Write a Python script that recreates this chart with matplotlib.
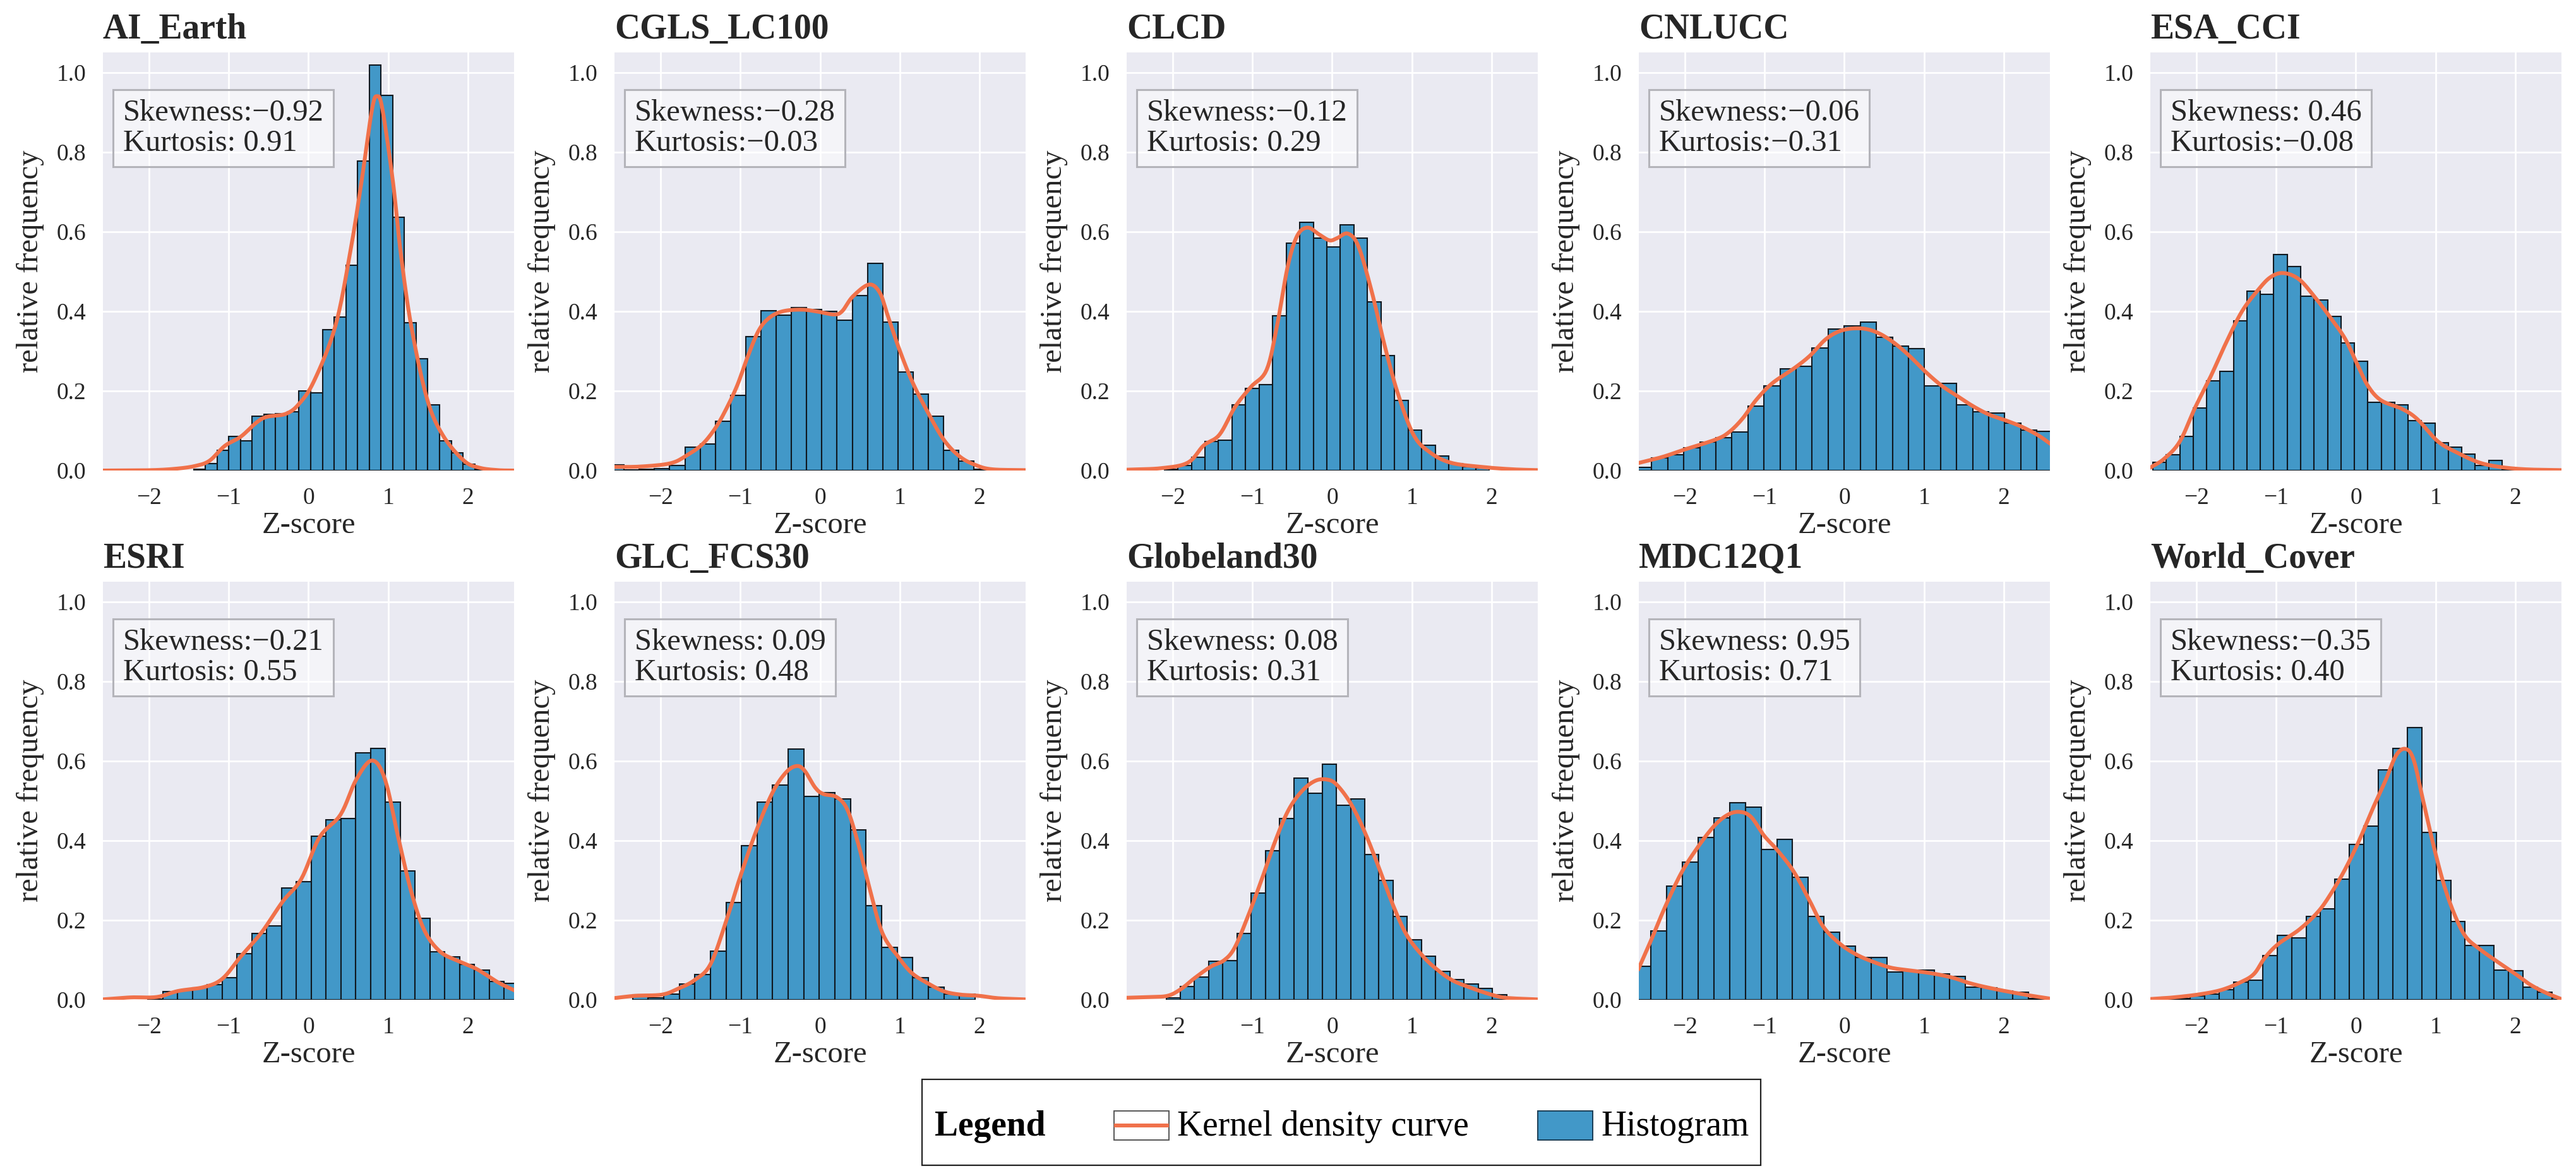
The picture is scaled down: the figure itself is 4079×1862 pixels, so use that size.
import numpy as np
import matplotlib
matplotlib.use("Agg")
import matplotlib.pyplot as plt
from matplotlib.patches import Rectangle
from matplotlib.lines import Line2D

plt.rcParams['font.family'] = ['Liberation Serif', 'DejaVu Serif']

names = ["AI_Earth", "CGLS_LC100", "CLCD", "CNLUCC", "ESA_CCI",
         "ESRI", "GLC_FCS30", "Globeland30", "MDC12Q1", "World_Cover"]
skewness = ["\u22120.92", "\u22120.28", "\u22120.12", "\u22120.06", " 0.46",
            "\u22120.21", " 0.09", " 0.08", " 0.95", "\u22120.35"]
kurtosis = [" 0.91", "\u22120.03", " 0.29", "\u22120.31", "\u22120.08",
            " 0.55", " 0.48", " 0.31", " 0.71", " 0.40"]

bin_start = [-1.442, -2.651, -2.107, -2.62, -2.547, -2.016, -2.354, -2.084, -2.623, -2.441]
bin_width = [0.147, 0.191, 0.17, 0.2014, 0.1685, 0.1863, 0.1955, 0.178, 0.1973, 0.1815]

ai_earth_h = [.003,.018,.051,.085,.075,.137,.141,.142,.148,.2,.195,.353,.386,.516,.777,1.018,.942,.636,.371,.28,.165,.074,.044,.016,.003]
cgls_h = [.014,.002,.003,.005,.012,.059,.066,.123,.189,.337,.402,.39,.409,.404,.40,.378,.44,.52,.372,.247,.192,.136,.05,.023,.003]
clcd_h = [.003,.013,.033,.073,.076,.165,.206,.216,.388,.571,.623,.584,.561,.617,.584,.423,.288,.176,.101,.063,.037,.017,.009,.006]
cnlucc_h = [.008,.032,.04,.057,.072,.082,.096,.161,.213,.255,.262,.307,.356,.363,.372,.335,.312,.306,.212,.219,.165,.147,.145,.119,.102,.099]
esa_h = [.021,.039,.086,.157,.225,.249,.376,.45,.442,.543,.513,.437,.428,.387,.32,.275,.172,.172,.165,.125,.119,.069,.058,.041,.013,.025,.003]
esri_h = [.002,.02,.024,.03,.038,.055,.115,.167,.186,.281,.297,.411,.452,.455,.62,.631,.497,.323,.204,.12,.108,.089,.074,.046,.042]
glc_h = [.012,.005,.014,.039,.064,.122,.245,.387,.497,.539,.629,.51,.521,.504,.426,.236,.131,.106,.056,.032,.014,.014]
globe_h = [.005,.033,.057,.097,.098,.167,.268,.374,.456,.557,.519,.591,.488,.504,.365,.299,.209,.15,.109,.071,.051,.039,.029,.012]
mdc_h = [.084,.173,.286,.345,.407,.457,.495,.483,.377,.403,.308,.21,.17,.135,.106,.106,.07,.073,.074,.065,.059,.032,.03,.022,.019,.003]
world_h = [.007,.003,.009,.014,.025,.045,.049,.111,.162,.156,.209,.228,.303,.39,.436,.577,.632,.684,.42,.3,.196,.136,.137,.075,.073,.032,.019,.004]

ai_earth_kx = [-2.58,-1.97,-1.64,-1.41,-1.24,-1.05,-.85,-.65,-.52,-.29,-.125,.07,.336,.52,.665,.797,.862,.928,1.06,1.159,1.29,1.488,1.685,1.95,2.146,2.377,2.58]
ai_earth_ky = [0,.001,.005,.012,.025,.062,.085,.121,.135,.142,.166,.225,.362,.544,.725,.907,.94,.907,.725,.544,.362,.18,.089,.025,.007,.001,0]
cgls_kx = [-2.59,-2.253,-1.882,-1.68,-1.477,-1.309,-1.174,-1.039,-.904,-.769,-.634,-.465,-.229,-.027,.175,.277,.411,.614,.749,.85,.985,1.153,1.356,1.558,1.761,1.963,2.165,2.57]
cgls_ky = [.009,.01,.018,.037,.066,.108,.156,.214,.288,.352,.384,.4,.404,.399,.392,.4,.437,.467,.447,.389,.31,.225,.145,.076,.034,.013,.003,.001]
clcd_kx = [-2.587,-2.14,-1.81,-1.613,-1.415,-1.218,-1.02,-.823,-.691,-.56,-.441,-.309,-.165,-.033,.066,.197,.329,.494,.658,.823,1.02,1.218,1.481,1.876,2.271,2.58]
clcd_ky = [.002,.006,.02,.063,.09,.16,.21,.253,.365,.511,.589,.61,.593,.578,.584,.595,.563,.451,.314,.194,.09,.047,.02,.009,.003,.001]
cnlucc_kx = [-2.582,-2.286,-2.017,-1.613,-1.444,-1.276,-1.108,-.906,-.636,-.434,-.232,-.03,.205,.407,.609,.811,1.013,1.215,1.418,1.62,1.822,2.024,2.226,2.428,2.579]
cnlucc_ky = [.019,.034,.052,.078,.097,.131,.177,.219,.256,.288,.33,.352,.357,.347,.323,.289,.249,.214,.187,.161,.14,.126,.11,.089,.068]
esa_kx = [-2.566,-2.404,-2.21,-2.016,-1.821,-1.627,-1.432,-1.238,-1.076,-.914,-.719,-.525,-.331,-.136,.026,.156,.318,.577,.771,1.03,1.29,1.549,1.808,2.132,2.586]
esa_ky = [.009,.03,.073,.159,.237,.322,.399,.451,.485,.496,.481,.438,.387,.331,.263,.211,.176,.155,.129,.073,.043,.02,.009,.003,.001]
esri_kx = [-2.58,-2.232,-1.903,-1.639,-1.31,-1.08,-.849,-.586,-.323,-.092,.138,.402,.599,.797,.961,1.126,1.29,1.455,1.652,1.883,2.113,2.377,2.581]
esri_ky = [.001,.006,.007,.022,.032,.053,.109,.17,.247,.303,.408,.465,.553,.601,.553,.408,.271,.174,.121,.097,.077,.044,.024]
glc_kx = [-2.59,-2.32,-1.983,-1.781,-1.578,-1.376,-1.174,-1.005,-.803,-.6,-.432,-.297,-.196,-.061,.04,.209,.344,.479,.614,.782,.985,1.153,1.356,1.558,1.761,1.997,2.233,2.57]
glc_ky = [.004,.01,.013,.028,.049,.089,.2,.307,.423,.519,.57,.587,.576,.533,.517,.509,.477,.392,.286,.168,.107,.067,.041,.021,.013,.01,.004,.001]
globe_kx = [-2.589,-2.303,-2.067,-1.898,-1.73,-1.527,-1.359,-1.224,-1.055,-.887,-.718,-.55,-.381,-.212,-.061,.057,.226,.394,.563,.765,.934,1.136,1.304,1.507,1.743,1.979,2.181,2.569]
globe_ky = [.005,.007,.01,.027,.054,.083,.099,.131,.211,.301,.397,.476,.524,.55,.553,.54,.495,.428,.344,.237,.163,.11,.078,.049,.03,.014,.005,.001]
mdc_kx = [-2.583,-2.421,-2.253,-2.051,-1.848,-1.646,-1.478,-1.327,-1.175,-1.007,-.838,-.636,-.434,-.266,-.064,.138,.34,.576,.811,1.081,1.35,1.586,1.889,2.293,2.579]
mdc_ky = [.078,.152,.232,.317,.381,.434,.463,.472,.46,.412,.375,.322,.248,.184,.142,.115,.097,.081,.074,.067,.056,.041,.027,.012,.003]
world_kx = [-2.576,-2.29,-1.953,-1.684,-1.448,-1.279,-1.145,-.976,-.707,-.471,-.303,-.135,.034,.202,.37,.505,.623,.724,.842,.976,1.111,1.246,1.38,1.549,1.751,1.987,2.189,2.391,2.576]
world_ky = [.002,.006,.014,.025,.044,.065,.105,.14,.177,.222,.27,.328,.397,.476,.55,.614,.63,.603,.502,.386,.285,.21,.158,.128,.099,.067,.038,.017,.002]

heights = [ai_earth_h, cgls_h, clcd_h, cnlucc_h, esa_h, esri_h, glc_h, globe_h, mdc_h, world_h]
curves_x = [ai_earth_kx, cgls_kx, clcd_kx, cnlucc_kx, esa_kx, esri_kx, glc_kx, globe_kx, mdc_kx, world_kx]
curves_y = [ai_earth_ky, cgls_ky, clcd_ky, cnlucc_ky, esa_ky, esri_ky, glc_ky, globe_ky, mdc_ky, world_ky]

W, H = 4080, 1862
BAR = "#4298C8"
KDE = "#F0714A"
INK = "#262626"
PANEL = "#EAEAF2"
LEFTS = [163, 973, 1784, 2595, 3405]
TOPS = [83, 921]
AW, AH = 651, 662


def smooth(x, y, n=8):
    """Catmull-Rom path through the read points, for drawing only."""
    p = np.column_stack([x, y])
    p = np.vstack([2 * p[0] - p[1], p, 2 * p[-1] - p[-2]])
    t = np.linspace(0, 1, n, endpoint=False)[:, None]
    out = []
    for i in range(1, len(p) - 2):
        a, b, c, d = p[i - 1], p[i], p[i + 1], p[i + 2]
        out.append(0.5 * (2 * b + (c - a) * t + (2 * a - 5 * b + 4 * c - d) * t ** 2
                          + (3 * b - a - 3 * c + d) * t ** 3))
    out.append(p[-2][None, :])
    out = np.vstack(out)
    return out[:, 0], np.clip(out[:, 1], 0, None)


fig = plt.figure(figsize=(W / 200, H / 200), dpi=200, facecolor="white")

for i, name in enumerate(names):
    left = LEFTS[i % 5]
    top = TOPS[i // 5]
    ax = fig.add_axes([left / W, 1 - (top + AH) / H, AW / W, AH / H], facecolor=PANEL)
    for s in ax.spines.values():
        s.set_visible(False)
    ax.grid(True, color="white", lw=1.0)
    ax.set_axisbelow(True)
    h = heights[i]
    edges = [bin_start[i] + k * bin_width[i] for k in range(len(h))]
    ax.bar(edges, h, width=bin_width[i], align="edge", color=BAR, edgecolor="#10181f", linewidth=0.75)
    kx, ky = smooth(curves_x[i], curves_y[i])
    ax.plot(kx, ky, color=KDE, lw=2.2, solid_joinstyle="round")
    ax.set_xlim(-2.58, 2.58)
    ax.set_ylim(0, 1.05)
    ax.set_xticks([-2, -1, 0, 1, 2])
    ax.set_yticks([0, .2, .4, .6, .8, 1.0])
    ax.tick_params(length=0, labelsize=13.5, labelcolor=INK, pad=9.5)
    ax.set_xlabel("Z-score", fontsize=17.5, color=INK, labelpad=1.5)
    ax.set_ylabel("relative frequency", fontsize=17.5, color=INK, labelpad=7)
    ax.set_title(name, loc="left", fontsize=20, fontweight="bold", color=INK, pad=8)
    ax.text(0.049, 0.888, f"Skewness:{skewness[i]}\nKurtosis:{kurtosis[i]}",
            transform=ax.transAxes, ha="left", va="top", fontsize=17.5, color=INK,
            linespacing=1.1, zorder=6,
            bbox=dict(boxstyle="square,pad=0.32", fc=(1, 1, 1, 0.5), ec="#B4B4BA", lw=1.1))


def fx(p):
    return p / W


def fy(p):
    return 1 - p / H


def frect(x0, y0, x1, y1, **kw):
    fig.add_artist(Rectangle((fx(x0), fy(y1)), fx(x1) - fx(x0), fy(y0) - fy(y1),
                             transform=fig.transFigure, **kw))


frect(1460, 1709, 2788, 1845, fc="white", ec="#222222", lw=0.8)
frect(1764, 1759, 1851, 1805, fc="white", ec="#555555", lw=0.7)
fig.add_artist(Line2D([fx(1764), fx(1851)], [fy(1782), fy(1782)], color=KDE, lw=2.2,
                      transform=fig.transFigure, solid_capstyle="butt"))
frect(2435, 1759, 2522, 1805, fc=BAR, ec="#1a3d55", lw=0.7)
fig.text(fx(1480), fy(1798), "Legend", fontsize=20, fontweight="bold", color="black", va="baseline")
fig.text(fx(1864), fy(1798), "Kernel density curve", fontsize=20, color="black", va="baseline")
fig.text(fx(2535), fy(1798), "Histogram", fontsize=20, color="black", va="baseline")

fig.savefig("out.png", dpi=200, facecolor="white")
